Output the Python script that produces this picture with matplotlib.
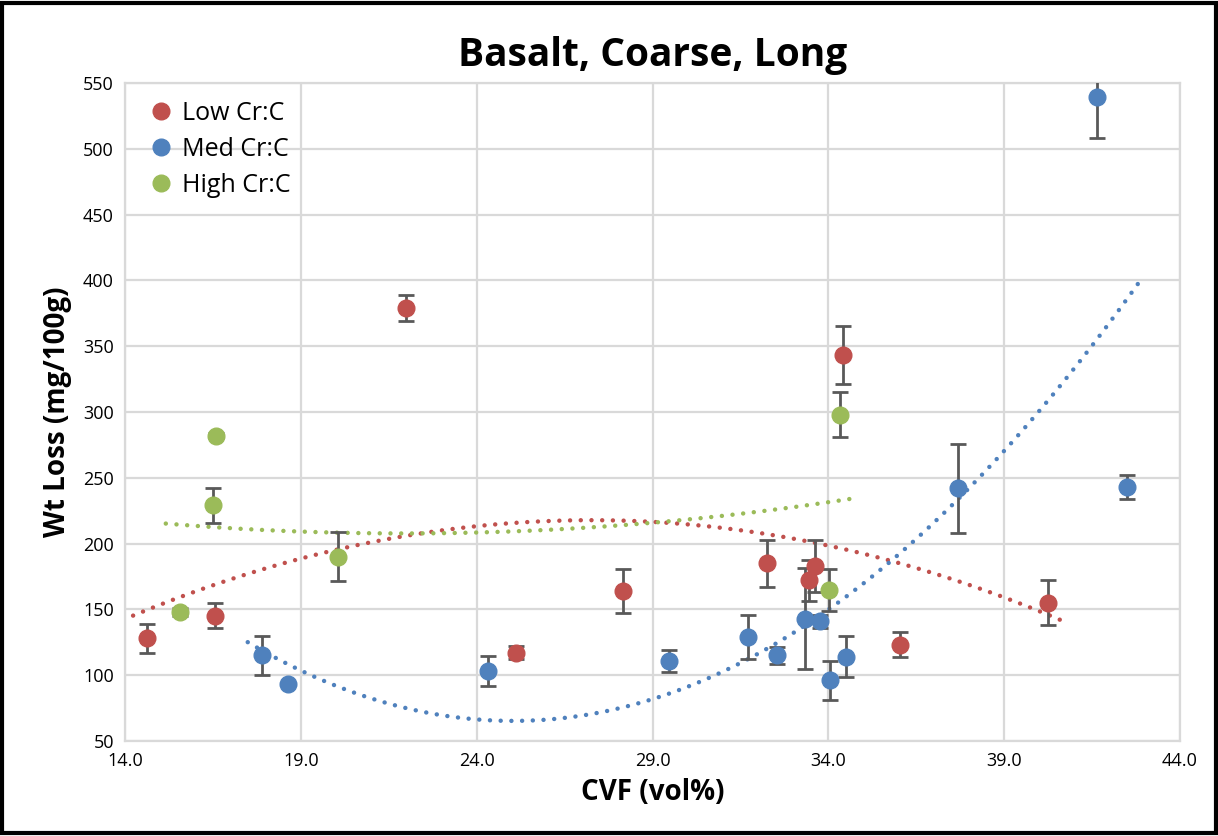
import numpy as np
import matplotlib
matplotlib.use("Agg")
import matplotlib.pyplot as plt
from matplotlib.patches import Rectangle

plt.rcParams['font.family'] = ['Open Sans', 'DejaVu Sans']

# Low Cr:C
low_x = [14.63, 16.56, 21.99, 25.12, 28.16, 32.25, 33.45, 33.62, 34.42, 36.04, 40.24]
low_y = [128, 145, 379, 117, 164, 185, 172, 183, 343, 123, 155]
low_err = [11, 9.5, 10, 5, 16.5, 18, 15.5, 19.5, 22, 9.5, 17]

# Med Cr:C
med_x = [17.89, 18.63, 24.33, 29.46, 31.71, 32.54, 33.35, 33.77, 34.05, 34.51, 37.68, 41.64, 42.48]
med_y = [115, 93, 103, 111, 129, 115, 143, 141, 96, 114, 242, 539, 243]
med_err = [15, 0, 11.5, 8.5, 17, 6.5, 38.5, 5, 14.5, 15.5, 34, 31, 9]

# High Cr:C
high_x = [15.56, 16.49, 16.60, 20.06, 34.03, 34.34]
high_y = [148, 229, 282, 190, 165, 298]
high_err = [3, 13.5, 2, 18.5, 16, 17]

series = [
    ("Low Cr:C", low_x, low_y, low_err, "#C0504D"),
    ("Med Cr:C", med_x, med_y, med_err, "#4F81BD"),
    ("High Cr:C", high_x, high_y, high_err, "#9BBB59"),
]

fig = plt.figure(figsize=(12.18, 8.36), dpi=100)
ax = fig.add_axes([125 / 1218, 1 - 741 / 836, 1055 / 1218, 658 / 836])

for label, xs, ys, errs, color in series:
    ax.errorbar(xs, ys, yerr=errs, fmt='none', ecolor='#595959',
                elinewidth=2, capsize=6, capthick=2, zorder=3)
    ax.plot(xs, ys, 'o', color=color, markersize=12, label=label, zorder=4)
    # second order polynomial trendline, like Excel
    coef = np.polyfit(xs, ys, 2)
    tx = np.linspace(min(xs) - 0.4, max(xs) + 0.4, 200)
    ax.plot(tx, np.polyval(coef, tx), linestyle=(0, (0.01, 2.4)), color=color,
            linewidth=3.2, dash_capstyle='round', zorder=2)

ax.set_xlim(14, 44)
ax.set_ylim(50, 550)
ax.set_xticks(np.arange(14, 45, 5))
ax.set_xticklabels([f"{v:.1f}" for v in np.arange(14, 45, 5)])
ax.set_yticks(np.arange(50, 551, 50))
ax.grid(True, color='#d9d9d9', linewidth=1.6, zorder=0)
ax.set_axisbelow(True)
for s in ax.spines.values():
    s.set_color('#d9d9d9')
    s.set_linewidth(1.6)
ax.tick_params(length=0, labelsize=13, pad=8)

ax.set_title("Basalt, Coarse, Long", fontsize=28, fontweight='bold', pad=12)
ax.set_xlabel("CVF (vol%)", fontsize=20, fontweight='bold', labelpad=6)
ax.set_ylabel("Wt Loss (mg/100g)", fontsize=20, fontweight='bold', labelpad=8)

leg = ax.legend(loc='upper left', frameon=False, fontsize=18, handletextpad=0.1,
                borderaxespad=0.3, labelspacing=0.45, handlelength=1.5)
leg.set_zorder(5)

fig.patches.append(Rectangle((0.002, 0.003), 0.996, 0.994, transform=fig.transFigure,
                             fill=False, edgecolor='black', linewidth=3))

fig.savefig("out.png", dpi=100)
